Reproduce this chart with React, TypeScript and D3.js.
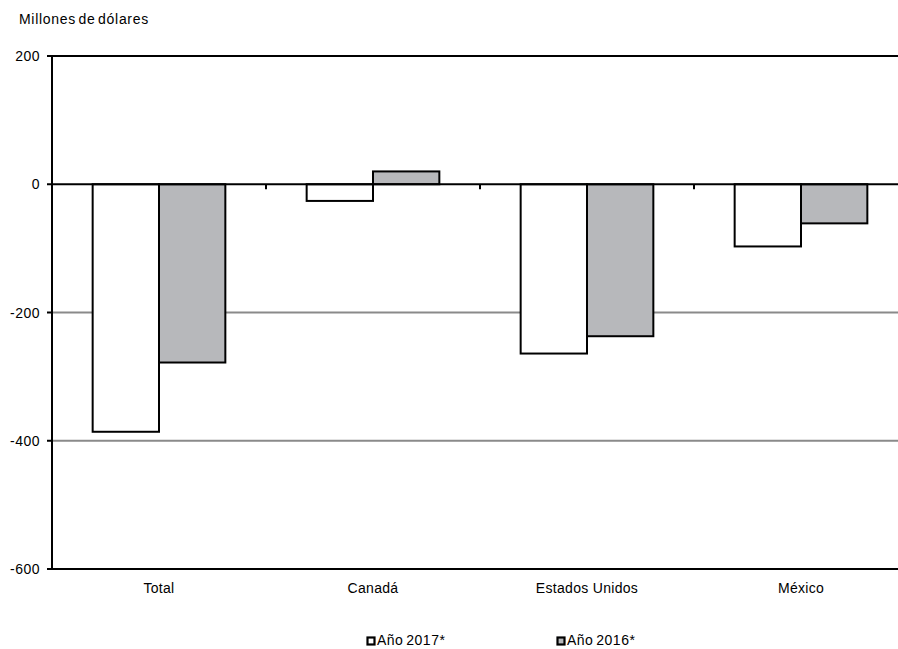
import React from "react";
import * as d3 from "d3";

const categories = ["Total", "Canadá", "Estados Unidos", "México"];
const seriesNames = ["Año 2017*", "Año 2016*"];
const values2017 = [-386, -26, -264, -97];
const values2016 = [-278, 20, -237, -61];
const yTicks = [200, 0, -200, -400, -600];

const W = 898;
const H = 649;
const FONT = "'Liberation Sans', Arial, sans-serif";
const GRAY = "#b7b8bb";

export default function App() {
  const y = d3.scaleLinear().domain([-600, 200]).range([569, 56]);
  const x = d3.scaleBand<string>().domain(categories).range([52, 908]).padding(0);
  const bw = x.bandwidth();
  const xs = d3.scaleBand<string>().domain(seriesNames).range([bw * 0.19, bw * 0.81]).padding(0);
  const fills = ["#ffffff", GRAY];
  const data = [values2017, values2016];
  const x0 = 52;
  const x1 = 908;

  return (
    <svg width={W} height={H} style={{ position: "absolute", left: 0, top: 0, background: "#fff" }} fontFamily={FONT}>
      <text x={19} y={24} fontSize={14} letterSpacing={0.7} wordSpacing={-2} fill="#000">Millones de dólares</text>
      {[-200, -400].map((v) => (
        <line key={v} x1={x0} x2={x1} y1={y(v)} y2={y(v)} stroke="#8a8a8a" strokeWidth={2} />
      ))}
      <line x1={x0} x2={x1} y1={y(200)} y2={y(200)} stroke="#000" strokeWidth={2} />
      <line x1={x0} x2={x1} y1={y(-600)} y2={y(-600)} stroke="#000" strokeWidth={2} />
      {seriesNames.map((s, si) =>
        categories.map((c, ci) => {
          const v = data[si][ci];
          const bx = (x(c) as number) + (xs(s) as number);
          const top = Math.min(y(v), y(0));
          const h = Math.abs(y(v) - y(0));
          return (
            <rect key={s + c} x={bx} y={top} width={xs.bandwidth()} height={h}
              fill={fills[si]} stroke="#000" strokeWidth={2} />
          );
        })
      )}
      <line x1={x0} x2={x1} y1={y(0)} y2={y(0)} stroke="#000" strokeWidth={2} />
      {categories.slice(1).map((c) => (
        <line key={c} x1={x(c)} x2={x(c)} y1={y(0)} y2={y(0) + 5} stroke="#000" strokeWidth={2} />
      ))}
      <line x1={x0} x2={x0} y1={y(200) - 1} y2={y(-600) + 1} stroke="#000" strokeWidth={2} />
      {yTicks.map((t) => (
        <g key={t}>
          <line x1={x0 - 5} x2={x0} y1={y(t)} y2={y(t)} stroke="#000" strokeWidth={2} />
          <text x={40} y={y(t) + 5} fontSize={14} letterSpacing={0.5} textAnchor="end" fill="#000">{t}</text>
        </g>
      ))}
      {categories.map((c) => (
        <text key={c} x={(x(c) as number) + bw / 2} y={593} fontSize={14} letterSpacing={0.3} textAnchor="middle" fill="#000">{c}</text>
      ))}
      {seriesNames.map((s, i) => {
        const lx = [367, 557][i];
        return (
          <g key={s}>
            <rect x={lx + 0.5} y={637.5} width={7} height={7} fill={fills[i]} stroke="#000" strokeWidth={2.2} />
            <text x={lx + 10} y={645} fontSize={14} letterSpacing={0.5} wordSpacing={-1.5} fill="#000">{s}</text>
          </g>
        );
      })}
    </svg>
  );
}
